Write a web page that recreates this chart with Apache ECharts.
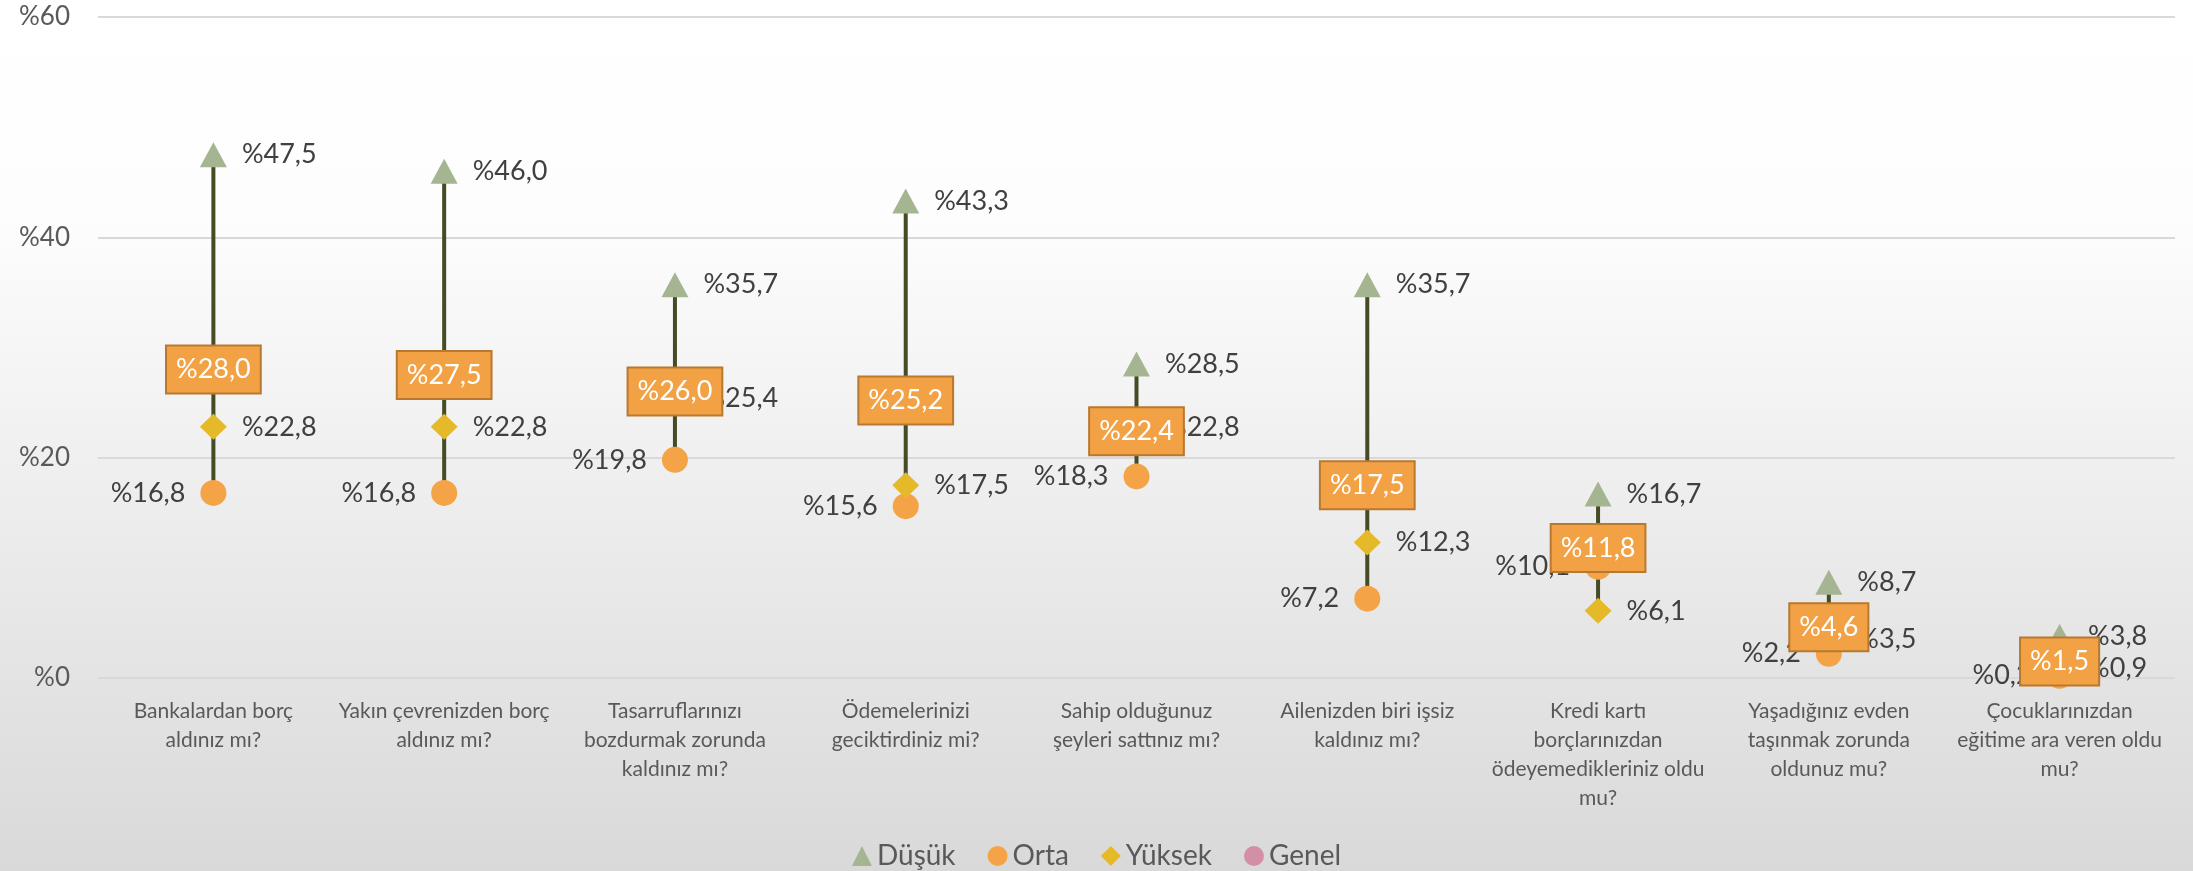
<!DOCTYPE html>
<html>
<head>
<meta charset="utf-8">
<script src="https://cdn.jsdelivr.net/npm/echarts@6/dist/echarts.min.js"></script>
<style>
  html, body { margin: 0; padding: 0; }
  #box { width: 2193px; height: 871px; }
</style>
</head>
<body>
<div id="box"></div>
<script>
// kategoriler (eksen etiketleri)
let categories = [
  "Bankalardan borç\naldınız mı?",
  "Yakın çevrenizden borç\naldınız mı?",
  "Tasarruflarınızı\nbozdurmak zorunda\nkaldınız mı?",
  "Ödemelerinizi\ngeciktirdiniz mi?",
  "Sahip olduğunuz\nşeyleri sattınız mı?",
  "Ailenizden biri işsiz\nkaldınız mı?",
  "Kredi kartı\nborçlarınızdan\nödeyemedikleriniz oldu\nmu?",
  "Yaşadığınız evden\ntaşınmak zorunda\noldunuz mu?",
  "Çocuklarınızdan\neğitime ara veren oldu\nmu?"
];

// seriler
let dusuk = [47.5, 46.0, 35.7, 43.3, 28.5, 35.7, 16.7, 8.7, 3.8];
let orta = [16.8, 16.8, 19.8, 15.6, 18.3, 7.2, 10.1, 2.2, 0.2];
let yuksek = [22.8, 22.8, 25.4, 17.5, 22.8, 12.3, 6.1, 3.5, 0.9];
let genel = [28.0, 27.5, 26.0, 25.2, 22.4, 17.5, 11.8, 4.6, 1.5];

// y ekseni
let yTicks = { min: 0, max: 60, interval: 20 };

let FONT = "Lato, 'Open Sans', sans-serif";

function pct(v) {
  return "%" + v.toFixed(1).replace(".", ",");
}

// yüksek-düşük çizgileri için min/max
let hiLo = categories.map((c, i) => {
  let vals = [dusuk[i], orta[i], yuksek[i], genel[i]];
  return [i, Math.min.apply(null, vals), Math.max.apply(null, vals)];
});

let valueLabel = pos => ({
  show: true,
  position: pos,
  distance: 15,
  fontFamily: FONT,
  fontSize: 27,
  color: "#404040",
  formatter: p => pct(p.value)
});

let chart = echarts.init(document.getElementById("box"), null, { renderer: "canvas" });

let option = {
  backgroundColor: {
    type: "linear", x: 0, y: 0, x2: 0, y2: 1,
    colorStops: [
      { offset: 0, color: "#FFFFFF" },
      { offset: 0.25, color: "#FDFDFD" },
      { offset: 1, color: "#D9D9D9" }
    ]
  },
  animation: false,
  textStyle: { fontFamily: FONT },
  grid: { left: 98, right: 18, top: 17, bottom: 193 },
  legend: {
    top: 837,
    left: "center",
    itemGap: 32,
    itemWidth: 20,
    itemHeight: 20,
    textStyle: { fontFamily: FONT, fontSize: 28, color: "#595959" },
    data: [
      { name: "Düşük", icon: "triangle" },
      { name: "Orta", icon: "circle" },
      { name: "Yüksek", icon: "diamond" },
      { name: "Genel", icon: "circle", itemStyle: { color: "#D38FA6" } }
    ]
  },
  xAxis: {
    type: "category",
    data: categories,
    axisLine: { show: false },
    axisTick: { show: false },
    axisLabel: {
      margin: 19,
      interval: 0,
      fontFamily: FONT,
      fontSize: 21,
      lineHeight: 29,
      color: "#595959",
      align: "center"
    }
  },
  yAxis: {
    type: "value",
    min: yTicks.min,
    max: yTicks.max,
    interval: yTicks.interval,
    axisLine: { show: false },
    axisTick: { show: false },
    axisLabel: {
      margin: 28,
      fontFamily: FONT,
      fontSize: 26,
      color: "#595959",
      formatter: v => "%" + v
    },
    splitLine: { lineStyle: { color: "#D9D9D9", width: 2 } }
  },
  series: [
    {
      type: "custom",
      name: "hilo",
      z: 1,
      silent: true,
      data: hiLo,
      encode: { x: 0, y: [1, 2] },
      renderItem(params, api) {
        let a = api.coord([api.value(0), api.value(1)]);
        let b = api.coord([api.value(0), api.value(2)]);
        return {
          type: "line",
          shape: { x1: a[0], y1: a[1], x2: b[0], y2: b[1] },
          style: { stroke: "#434C25", lineWidth: 4 }
        };
      }
    },
    {
      type: "scatter",
      name: "Düşük",
      z: 3,
      symbol: "triangle",
      symbolSize: [27, 25],
      itemStyle: { color: "#A5B592", opacity: 1 },
      label: valueLabel("right"),
      data: dusuk
    },
    {
      type: "scatter",
      name: "Orta",
      z: 3,
      symbol: "circle",
      symbolSize: 26,
      itemStyle: { color: "#F4A446", opacity: 1 },
      label: valueLabel("left"),
      data: orta
    },
    {
      type: "scatter",
      name: "Yüksek",
      z: 3,
      symbol: "diamond",
      symbolSize: [27, 26],
      itemStyle: { color: "#E6B92A", opacity: 1 },
      label: valueLabel("right"),
      data: yuksek
    },
    {
      type: "scatter",
      name: "Genel",
      z: 10,
      symbol: "circle",
      symbolSize: 26,
      itemStyle: { color: "#D38FA6", opacity: 1 },
      label: {
        show: true,
        position: "inside",
        fontFamily: FONT,
        fontSize: 27,
        color: "#FFFFFF",
        backgroundColor: "#F2A244",
        borderColor: "#B9782F",
        borderWidth: 2,
        padding: [10, 9, 9, 9],
        formatter: p => pct(p.value)
      },
      data: genel
    }
  ]
};

chart.setOption(option);
</script>
</body>
</html>
